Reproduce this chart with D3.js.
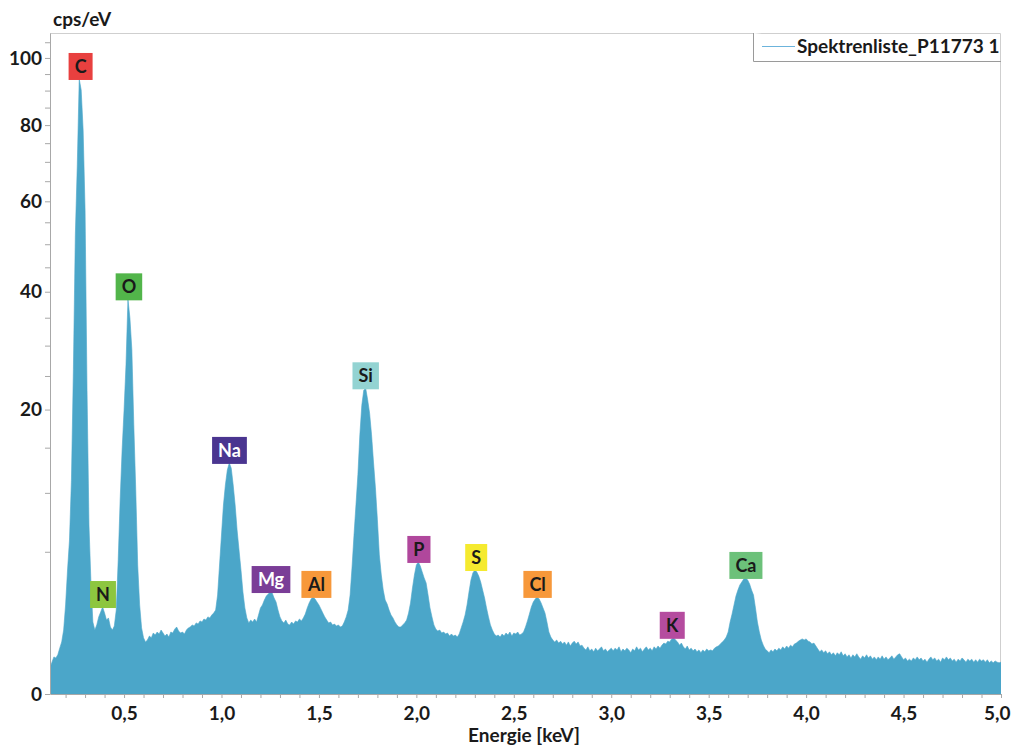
<!DOCTYPE html>
<html>
<head>
<meta charset="utf-8">
<script src="https://cdn.jsdelivr.net/npm/d3@7"></script>
<style>
  body { margin: 0; background: #fff; }
  svg { display: block; font-family: Lato, "Open Sans", sans-serif; }
</style>
</head>
<body>
<div id="chart"></div>
<script>
// spectrum channels: 0.12 keV .. 5.00 keV, 10 eV per channel
const energyStart = 0.12;
const energyStep = 0.01;

// cps/eV per channel (one row = 0.1 keV)
const counts = [
  0.17, 0.25, 0.34, 0.32, 0.38, 0.52, 0.67, 1.01,
  1.96, 3.8, 5.86, 11.3, 26.0, 52.1, 69.2, 93.5, 90.2, 78.6,
  57.9, 22.8, 7.06, 3.1, 1.28, 1.01, 1.18, 1.47, 1.66, 1.87,
  1.62, 1.35, 1.43, 1.11, 1.01, 1.14, 1.74, 4.44, 9.3, 14.7,
  19.9, 26.8, 38.5, 35.0, 29.3, 17.9, 10.3, 4.11, 1.96, 1.08,
  0.78, 0.67, 0.72, 0.83, 0.78, 0.92, 0.86, 0.95, 0.89, 1.01,
  0.92, 0.83, 0.89, 0.80, 0.95, 0.92, 1.04, 1.11, 0.98, 0.92,
  0.95, 0.89, 1.01, 1.08, 1.11, 1.18, 1.14, 1.25, 1.21, 1.32,
  1.28, 1.39, 1.35, 1.47, 1.43, 1.54, 1.62, 1.74, 2.42, 4.11,
  6.25, 8.83, 10.8, 12.4, 13.2, 12.6, 10.8, 8.83, 6.65, 5.13,
  3.80, 2.57, 1.83, 1.43, 1.25, 1.35, 1.28, 1.39, 1.28, 1.54,
  1.83, 1.96, 2.18, 2.37, 2.47, 2.57, 2.52, 2.28, 2.09, 1.74,
  1.47, 1.32, 1.25, 1.35, 1.21, 1.18, 1.28, 1.21, 1.32, 1.28,
  1.39, 1.32, 1.43, 1.58, 1.83, 2.05, 2.23, 2.33, 2.23, 2.09,
  1.96, 1.79, 1.62, 1.47, 1.35, 1.25, 1.28, 1.18, 1.21, 1.14,
  1.18, 1.11, 1.14, 1.28, 1.47, 1.74, 2.42, 3.99, 6.25, 8.83,
  11.9, 16.6, 20.6, 22.8, 23.1, 21.4, 19.5, 16.6, 13.3, 10.5,
  7.5, 4.78, 3.50, 2.67, 2.18, 2.00, 1.74, 1.54, 1.43, 1.28,
  1.18, 1.11, 1.11, 1.18, 1.25, 1.35, 1.62, 2.05, 2.78, 3.50,
  4.11, 4.31, 4.05, 3.68, 3.33, 3.05, 2.42, 1.83, 1.47, 1.18,
  1.04, 0.98, 1.01, 0.92, 0.95, 0.89, 0.92, 0.83, 0.89, 0.83,
  0.86, 0.80, 0.89, 1.08, 1.28, 1.54, 1.96, 2.57, 3.21, 3.62,
  3.80, 3.68, 3.44, 3.10, 2.67, 2.28, 1.83, 1.47, 1.18, 1.01,
  0.89, 0.83, 0.86, 0.80, 0.89, 0.83, 0.92, 0.86, 0.95, 0.83,
  0.92, 0.89, 0.95, 0.86, 0.89, 0.95, 1.11, 1.32, 1.58, 1.87,
  2.09, 2.23, 2.33, 2.23, 2.05, 1.83, 1.62, 1.28, 0.95, 0.80,
  0.72, 0.67, 0.72, 0.64, 0.69, 0.62, 0.67, 0.59, 0.67, 0.57,
  0.64, 0.69, 0.62, 0.67, 0.57, 0.59, 0.52, 0.48, 0.55, 0.46,
  0.50, 0.44, 0.52, 0.46, 0.50, 0.55, 0.46, 0.50, 0.44, 0.48,
  0.52, 0.46, 0.52, 0.48, 0.55, 0.44, 0.50, 0.46, 0.52, 0.48,
  0.42, 0.50, 0.46, 0.55, 0.48, 0.52, 0.44, 0.50, 0.55, 0.48,
  0.52, 0.46, 0.55, 0.50, 0.57, 0.52, 0.59, 0.64, 0.62, 0.69,
  0.67, 0.75, 0.78, 0.72, 0.67, 0.59, 0.64, 0.55, 0.50, 0.57,
  0.48, 0.52, 0.46, 0.50, 0.44, 0.48, 0.42, 0.48, 0.44, 0.50,
  0.46, 0.48, 0.46, 0.52, 0.55, 0.57, 0.62, 0.67, 0.72, 0.80,
  0.95, 1.28, 1.58, 1.96, 2.37, 2.67, 2.94, 3.10, 3.27, 3.33,
  3.21, 2.99, 2.67, 2.42, 1.83, 1.28, 0.95, 0.72, 0.59, 0.50,
  0.46, 0.42, 0.48, 0.44, 0.50, 0.46, 0.52, 0.48, 0.55, 0.50,
  0.57, 0.52, 0.59, 0.55, 0.62, 0.64, 0.69, 0.72, 0.75, 0.72,
  0.75, 0.69, 0.67, 0.62, 0.64, 0.57, 0.50, 0.44, 0.48, 0.42,
  0.46, 0.40, 0.44, 0.38, 0.42, 0.36, 0.42, 0.38, 0.44, 0.36,
  0.40, 0.34, 0.38, 0.32, 0.38, 0.34, 0.40, 0.34, 0.30, 0.36,
  0.32, 0.38, 0.32, 0.36, 0.30, 0.34, 0.29, 0.34, 0.30, 0.36,
  0.30, 0.34, 0.29, 0.32, 0.36, 0.30, 0.34, 0.38, 0.40, 0.34,
  0.29, 0.32, 0.27, 0.30, 0.27, 0.32, 0.29, 0.34, 0.29, 0.32,
  0.27, 0.30, 0.25, 0.30, 0.34, 0.29, 0.32, 0.27, 0.30, 0.25,
  0.32, 0.29, 0.34, 0.29, 0.32, 0.27, 0.30, 0.25, 0.30, 0.27,
  0.32, 0.29, 0.25, 0.30, 0.27, 0.30, 0.25, 0.29, 0.25, 0.30,
  0.27, 0.29, 0.25, 0.29, 0.24, 0.27, 0.24, 0.27, 0.25, 0.24,
  0.25
];

// element markers
const peakLabels = ["C", "N", "O", "Na", "Mg", "Al", "Si", "P", "S", "Cl", "K", "Ca"];
const peakEnergies = [0.277, 0.392, 0.525, 1.041, 1.254, 1.487, 1.740, 2.013, 2.307, 2.622, 3.313, 3.691];
const peakColors = ["#e8403f", "#8dc63f", "#52b54a", "#4a3590", "#7a3d97", "#f7983a",
  "#93d3d2", "#b0479c", "#f5ea2f", "#f7983a", "#b54c9f", "#6cc17a"];
const peakTextColors = ["#1a1a1a", "#1a1a1a", "#1a1a1a", "#fff", "#fff", "#1a1a1a",
  "#1a1a1a", "#1a1a1a", "#1a1a1a", "#1a1a1a", "#1a1a1a", "#1a1a1a"];

const yLabelTicks = [0, 20, 40, 60, 80, 100];
const seriesName = "Spektrenliste_P11773 1";
const xTitle = "Energie [keV]";
const yTitle = "cps/eV";

const width = 1011;
const height = 747;
const margin = { top: 33, right: 10, bottom: 53, left: 50 };

const fillColor = "#4ba6c9";
const frameColor = "#cfcfcf";
const axisColor = "#a8a8a8";
const textColor = "#1a1a1a";
const fontSize = "19px";

const svg = d3
  .select("#chart")
  .append("svg")
  .attr("width", width)
  .attr("height", height);

const x = d3
  .scaleLinear()
  .domain([energyStart, 5.0])
  .range([margin.left, width - margin.right]);

const y = d3
  .scaleSqrt()
  .domain([0, 108])
  .range([height - margin.bottom, margin.top]);

const energyAt = (i) => energyStart + i * energyStep;

svg
  .append("clipPath")
  .attr("id", "plot-clip")
  .append("rect")
  .attr("x", margin.left)
  .attr("y", margin.top)
  .attr("width", width - margin.left - margin.right)
  .attr("height", height - margin.top - margin.bottom);

// frame (top + right)
svg
  .append("path")
  .attr("fill", "none")
  .attr("stroke", frameColor)
  .attr(
    "d",
    `M${margin.left},${margin.top + 0.5}H${width - margin.right - 0.5}V${height - margin.bottom}`
  );

// spectrum
const area = d3
  .area()
  .x((d, i) => x(energyAt(i)))
  .y0(y(0))
  .y1((d) => y(d));

svg
  .append("path")
  .datum(counts)
  .attr("clip-path", "url(#plot-clip)")
  .attr("fill", fillColor)
  .attr("stroke", fillColor)
  .attr("stroke-width", 0.6)
  .attr("d", area);

// y axis
const yAxis = svg
  .append("g")
  .attr("transform", `translate(${margin.left},0)`)
  .call(
    d3
      .axisLeft(y)
      .tickValues(d3.range(0, 106, 5))
      .tickSize(5)
      .tickSizeOuter(0)
      .tickPadding(3)
      .tickFormat((d) => (yLabelTicks.includes(d) ? d : ""))
  );

// x axis
const xAxis = svg
  .append("g")
  .attr("transform", `translate(0,${height - margin.bottom})`)
  .call(
    d3
      .axisBottom(x)
      .tickValues(d3.range(2, 51).map((i) => i / 10))
      .tickSize(4)
      .tickSizeOuter(0)
      .tickPadding(9)
      .tickFormat((d) =>
        Math.round(d * 10) % 5 === 0 ? d3.format(".1f")(d).replace(".", ",") : ""
      )
  );

[xAxis, yAxis].forEach((g) => {
  g.select(".domain").attr("stroke", axisColor);
  g.selectAll(".tick line").attr("stroke", axisColor);
  g.selectAll(".tick text")
    .attr("fill", textColor)
    .style("font-size", fontSize)
    .style("font-weight", "bold")
    .style("font-family", "Lato, sans-serif");
});

// last x label sits at the right edge, keep it inside
xAxis
  .selectAll(".tick text")
  .filter((d) => d === 5)
  .attr("text-anchor", "end")
  .attr("x", 9);

// axis titles
svg
  .append("text")
  .attr("x", 53)
  .attr("y", 26)
  .attr("fill", textColor)
  .style("font-size", fontSize)
  .style("font-weight", "bold")
  .text(yTitle);

svg
  .append("text")
  .attr("x", 524)
  .attr("y", 742)
  .attr("text-anchor", "middle")
  .attr("fill", textColor)
  .style("font-size", fontSize)
  .style("font-weight", "bold")
  .text(xTitle);

// element label boxes
const labelData = peakLabels.map((name, i) => {
  const e = peakEnergies[i];
  const top = d3.max(counts.filter((c, j) => Math.abs(energyAt(j) - e) <= 0.025));
  return { name, e, top, fill: peakColors[i], ink: peakTextColors[i] };
});

const labels = svg
  .append("g")
  .selectAll("g")
  .data(labelData)
  .enter()
  .append("g")
  .attr("transform", (d) => `translate(${x(d.e)},${y(d.top) + 1})`);

labels
  .append("text")
  .attr("text-anchor", "middle")
  .attr("y", -7)
  .attr("fill", (d) => d.ink)
  .style("font-size", "18px")
  .style("font-weight", "bold")
  .text((d) => d.name);

labels.each(function () {
  const g = d3.select(this);
  const w = g.select("text").node().getBBox().width + 12;
  g.insert("rect", "text")
    .attr("x", -w / 2)
    .attr("y", -27)
    .attr("width", w)
    .attr("height", 27)
    .attr("fill", (d) => d.fill);
});

// legend
const legend = svg.append("g");

legend
  .append("path")
  .attr("fill", "#fff")
  .attr("stroke", "#9a9a9a")
  .attr("d", `M753.5,${margin.top}V61.5H${width - margin.right}`);

legend
  .append("line")
  .attr("x1", 762)
  .attr("x2", 795)
  .attr("y1", 46.5)
  .attr("y2", 46.5)
  .attr("stroke", "#6cb4dc")
  .attr("stroke-width", 1.2);

legend
  .append("text")
  .attr("x", 797)
  .attr("y", 53)
  .attr("fill", textColor)
  .style("font-size", fontSize)
  .style("font-weight", "bold")
  .text(seriesName);
</script>
</body>
</html>
